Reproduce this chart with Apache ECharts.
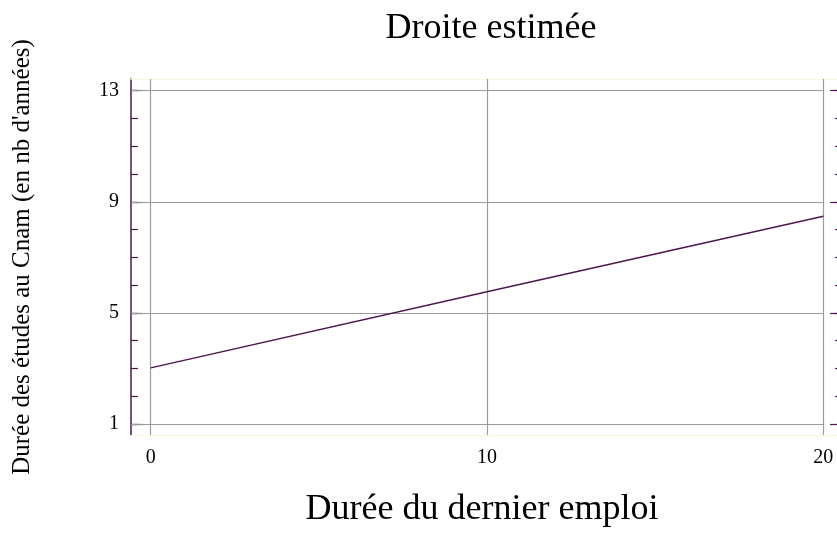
<!DOCTYPE html>
<html>
<head>
<meta charset="utf-8">
<script src="https://cdn.jsdelivr.net/npm/echarts@6/dist/echarts.min.js"></script>
<style>
  html, body { margin: 0; padding: 0; background: #fff; overflow: hidden; }
  /* a bit wider than the window: the right-hand axis line sits just off the edge */
  #chart { width: 843px; height: 533px; }
</style>
</head>
<body>
<div id="chart"></div>
<script>
// data
const lineX = [0, 10, 20];
const lineY = [3.02, 5.76, 8.48];
const xTicks = [0, 10, 20];
const yMajor = [1, 5, 9, 13];
const yMinor = [1, 2, 3, 4, 5, 6, 7, 8, 9, 10, 11, 12, 13];
const xMin = -0.586, xMax = 20.586, yMin = 0.604, yMax = 13.42;

const FONT = "'Liberation Serif', 'Times New Roman', serif";
const PURPLE = "#4d164d";
const GRIDC = "#9a9a9a";

const chart = echarts.init(document.getElementById("chart"), null, { renderer: "canvas" });

// a left/right y axis; major = labels + long ticks, minor = short ticks only
function yAx(pos, vals, len, labels, extra) {
  return Object.assign({
    type: "value", position: pos, min: yMin, max: yMax,
    axisLine: { show: false, onZero: false },
    axisTick: { show: true, inside: true, length: len, customValues: vals, lineStyle: { color: PURPLE, width: 1.2 } },
    axisLabel: labels ? { show: true, customValues: vals, margin: 12, color: "#000", fontFamily: FONT, fontSize: 20 } : { show: false },
    splitLine: { show: false },
  }, extra || {});
}

const hLines = yMajor.map((v) => [{ coord: [xMin, v] }, { coord: [20, v] }]);
const vLines = xTicks.map((v) => ({ xAxis: v }));

chart.setOption({
  animation: false,
  title: {
    text: "Droite estimée", left: 486, top: 6, textAlign: "center",
    textStyle: { fontFamily: FONT, fontSize: 36, fontWeight: "normal", color: "#000" },
  },
  grid: { left: 131, right: 0, top: 79, bottom: 97, containLabel: false },
  xAxis: [
    {
      type: "value", position: "bottom", min: xMin, max: xMax,
      name: "Durée du dernier emploi", nameLocation: "middle", nameGap: 57,
      nameTextStyle: { fontFamily: FONT, fontSize: 36, color: "#000", padding: [0, 10, 0, 0] },
      axisLine: { show: true, onZero: false, lineStyle: { color: "#fbf8d8", width: 1 } },
      axisTick: { show: false },
      axisLabel: { show: true, customValues: xTicks, margin: 13, color: "#000", fontFamily: FONT, fontSize: 20 },
      splitLine: { show: false },
    },
    {
      type: "value", position: "top", min: xMin, max: xMax,
      axisLine: { show: true, onZero: false, lineStyle: { color: "#fbf8d8", width: 1 } },
      axisTick: { show: false }, axisLabel: { show: false }, splitLine: { show: false },
    },
  ],
  yAxis: [
    yAx("left", yMajor, 12, true, {
      axisLine: { show: true, onZero: false, lineStyle: { color: PURPLE, width: 1.5 } },
      name: "Durée des études au Cnam (en nb d'années)", nameLocation: "middle", nameGap: 96,
      nameTextStyle: { fontFamily: FONT, fontSize: 25, color: "#000" },
    }),
    yAx("left", yMinor, 7, false),
    yAx("right", yMajor, 13, false),
    yAx("right", yMinor, 8, false),
  ],
  series: [{
    type: "line", xAxisIndex: 0, yAxisIndex: 0,
    data: lineX.map((x, i) => [x, lineY[i]]),
    showSymbol: false, z: 3,
    lineStyle: { color: PURPLE, width: 1.4 },
    markLine: {
      silent: true, symbol: "none", z: 1, animation: false,
      label: { show: false },
      lineStyle: { color: GRIDC, type: "solid", width: 1.2 },
      data: vLines.concat(hLines),
    },
  }],
});
</script>
</body>
</html>
